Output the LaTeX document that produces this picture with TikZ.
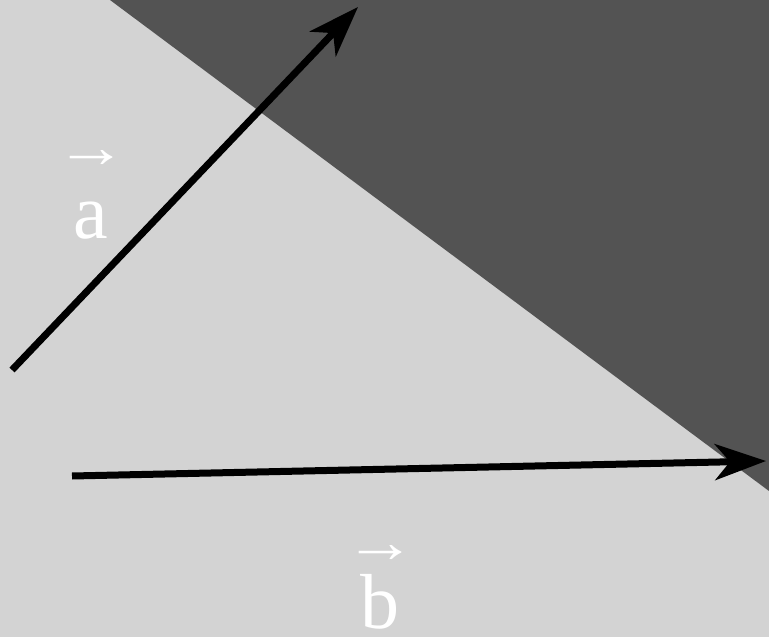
\documentclass[tikz,border=0pt]{standalone}
\usepackage{fontspec}
\usepackage{graphicx}
\setmainfont{Liberation Serif}
\usetikzlibrary{arrows.meta}
\definecolor{bglight}{HTML}{D3D3D3}
\definecolor{bgdark}{HTML}{535353}
\newcommand{\arrowfont}{\fontsize{60}{60}\selectfont}
\newcommand{\veclab}[2]{\setbox0\hbox{#1}\rlap{\hbox to \wd0{\hss\raisebox{#2}{\arrowfont\scalebox{1.2}[1]{→}}\hss}}\box0}
\tikzset{
  vec/.style={line width=7pt, draw=black, -{Stealth[length=51pt,width=36pt,inset=15pt]}},
  lab/.style={text=white, font=\fontsize{78}{80}\selectfont, inner sep=0pt, anchor=base}
}
\begin{document}
\begin{tikzpicture}[x=1pt,y=-1pt]
  \fill[bglight] (0,0) rectangle (769,637);
  \useasboundingbox (0,0) rectangle (769,637);
  \fill[bgdark] (110,0) -- (769,0) -- (769,491) -- cycle;
  \coordinate (a0) at (12,370);
  \coordinate (a1) at (358,7);
  \coordinate (b0) at (72,476);
  \coordinate (b1) at (766,461);
  \draw[vec] (a0) -- (a1);
  \draw[vec] (b0) -- (b1);
  \node[lab] (la) at (91,238) {\veclab{a}{71pt}};
  \node[lab] (lb) at (380,628) {\veclab{b}{66pt}};
\end{tikzpicture}
\end{document}
